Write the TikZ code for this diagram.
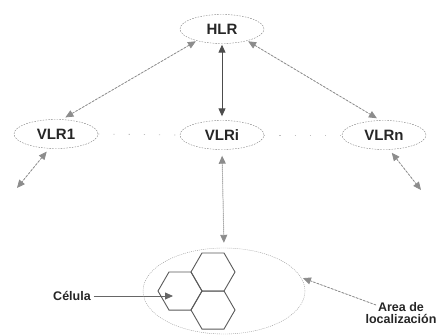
\documentclass[tikz,border=0pt]{standalone}
\usepackage{fontspec}
\setsansfont{Liberation Sans}
\usetikzlibrary{arrows.meta}
\usetikzlibrary{shapes,shapes.geometric}
\usetikzlibrary{backgrounds}
\pgfdeclarelayer{edgelayer}
\pgfdeclarelayer{nodelayer}
\pgfsetlayers{background,edgelayer,nodelayer,main}
\tikzstyle{none}=[inner sep=0mm]
\tikzstyle{reg}=[shape=ellipse,draw=black!50,dash pattern=on 1.6pt off 1.2pt,minimum width=84pt,minimum height=29pt,inner sep=0pt,text=black!85,font=\sffamily\bfseries\fontsize{15}{15}\selectfont]
\tikzstyle{area}=[shape=ellipse,draw=black!40,dash pattern=on 1pt off 1pt,minimum width=162pt,minimum height=86pt,inner sep=0pt]
\tikzstyle{cell}=[shape=regular polygon,regular polygon sides=6,draw=black!65,line width=0.9pt,minimum size=44pt,inner sep=0pt]
\tikzstyle{lbl}=[inner sep=0mm,align=center,text=black!85,font=\sffamily\bfseries\fontsize{12.5}{12.5}\selectfont]
\tikzstyle{tips}=[{Triangle[length=8pt,width=7pt]}-{Triangle[length=8pt,width=7pt]}]
\tikzstyle{tip}=[-{Triangle[length=8pt,width=7pt]}]
\tikzstyle{dashedge}=[tips,draw=black!45,fill=black!70,dash pattern=on 2.2pt off 1.6pt,line width=0.8pt]
\tikzstyle{dotedge}=[tips,draw=black!45,fill=black!70,dash pattern=on 1pt off 1pt,line width=0.9pt]
\tikzstyle{solidedge}=[tips,draw=black!70,fill=black!75,line width=1pt]
\tikzstyle{faint}=[draw=black!25,dash pattern=on 1.2pt off 14pt,line width=0.8pt]

\begin{document}
\begin{tikzpicture}[x=1pt,y=-1pt]
	\useasboundingbox (0,0) rectangle (439,335);
	\begin{pgfonlayer}{nodelayer}
		\node [style=reg] (0) at (222, 29) {HLR};
		\node [style=reg] (1) at (56, 134) {VLR1};
		\node [style=reg] (2) at (222, 135) {VLRi};
		\node [style=reg] (5) at (384, 135) {VLRn};
		\node [style=area] (3) at (224, 291) {};
		\node [style=cell] (4) at (213, 272) {};
		\node [style=cell] (6) at (213, 310) {};
		\node [style=cell] (7) at (180, 291) {};
		\node [style=lbl] (11) at (72, 296) {Célula};
		\node [style=lbl] (12) at (401, 313) {Area de\\localización};
		\coordinate (9) at (17, 188);
		\coordinate (10) at (421, 190);
		\coordinate (13) at (376, 305);
	\end{pgfonlayer}
	\begin{pgfonlayer}{edgelayer}
		\draw [style=faint] (1.east) to (2.west);
		\draw [style=faint] (2.east) to (5.west);
		\draw [style=dashedge, shorten <=1pt, shorten >=4pt] (0.205) to (1.68);
		\draw [style=solidedge, shorten <=1pt, shorten >=4pt] (0.south) to (2.north);
		\draw [style=dashedge, shorten <=1pt, shorten >=4pt] (0.335) to (5.104);
		\draw [style=dashedge, shorten <=4pt] (1.245) to (9);
		\draw [style=dashedge, shorten <=4pt] (5.290) to (10);
		\draw [style=dotedge, shorten <=6pt, shorten >=5pt] (2.south) to (3.north);
		\draw [style=tip, draw=black!60, fill=black!70, line width=0.8pt, shorten <=3pt, shorten >=7pt] (11.east) to (11.east -| 7.center);
		\draw [style=dashedge, tip, shorten >=2pt] (13) to (3.10);
	\end{pgfonlayer}
\end{tikzpicture}
\end{document}
